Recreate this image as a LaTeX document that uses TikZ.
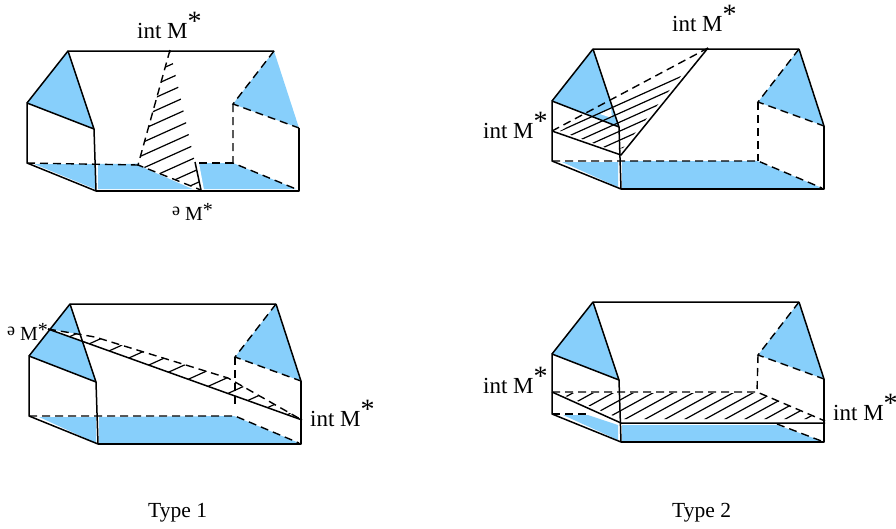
\documentclass[tikz,border=0pt]{standalone}
\usepackage{fontspec}
\setmainfont{Liberation Serif}
\usetikzlibrary{positioning}

\definecolor{skyfill}{RGB}{135,207,251}
\newcommand{\Mstar}{M\raisebox{8pt}{\fontsize{28}{28}\selectfont *}}
\newcommand{\bdMstar}{\raisebox{5pt}{\fontsize{18}{20}\selectfont ə}\hspace{5pt}M\raisebox{4pt}{*}}

% corner points of one prism, shifted by #1,#2
\newcommand{\prismcoords}[2]{
    \coordinate (apexL) at (68+#1,51+#2);
    \coordinate (apexR) at (274+#1,51+#2);
    \coordinate (roofL) at (27+#1,103+#2);
    \coordinate (roofR) at (94+#1,129+#2);
    \coordinate (footL) at (27+#1,163+#2);
    \coordinate (footR) at (96+#1,191+#2);
    \coordinate (backT) at (233+#1,104+#2);
    \coordinate (backB) at (233+#1,163+#2);
    \coordinate (sideT) at (299+#1,128+#2);
    \coordinate (sideB) at (299+#1,191+#2);
}
\newcommand{\roofblue}{
    \fill[skyfill] (apexL) -- (roofL) -- (roofR) -- cycle;
    \fill[skyfill] (apexR) -- (backT) -- (sideT) -- cycle;
}
\newcommand{\prismedges}{
    \draw[edge] (roofL) -- (apexL) -- (apexR);
    \draw[edge] (apexL) -- (roofR) -- (roofL) -- (footL) -- (footR) -- (roofR);
    \draw[edge] (footR) -- (sideB) -- (sideT);
    \draw[hidden] (apexR) -- (backT) -- (sideT);
}

\begin{document}
\begin{tikzpicture}[
    x=1pt,
    y=-1pt,
    edge/.style={
        line width=1.5pt,
        line join=round
    },
    hidden/.style={
        line width=1.4pt,
        dash pattern=on 8pt off 5pt
    },
    hatch/.style={
        line width=1.2pt
    },
    lab/.style={
        font=\fontsize{23}{25}\selectfont,
        anchor=base west,
        inner sep=0pt
    },
    bdry/.style={
        font=\fontsize{20}{22}\selectfont,
        anchor=base west,
        inner sep=0pt
    },
    caption/.style={
        font=\fontsize{21.5}{23}\selectfont,
        anchor=base west,
        inner sep=0pt
    }
]
\useasboundingbox (0,0) rectangle (896,528);

% Type 1, upper prism
\prismcoords{0}{0}
\fill[skyfill] (34,164) -- (95,164) -- (95,189) -- cycle;
\fill[skyfill] (98,164) -- (233,163) -- (296,189) -- (98,189) -- cycle;
\roofblue
\coordinate (cutT) at (170,50);
\coordinate (cutL) at (138,165);
\coordinate (cutB) at (201,190);
\fill[white] (cutT) -- (cutL) -- (195,190) -- (204,190) -- (199,163) -- cycle;
\begin{scope}
    \clip (cutT) -- (cutL) -- (cutB) -- cycle;
    \foreach \c in {70,83,...,226}
        \draw[hatch] (130,\c) -- (210,\c-36);
\end{scope}
\prismedges
\draw[hidden] (footL) -- (cutL);
\draw[hidden] (199,163) -- (backB);
\draw[hidden] (backT) -- (backB) -- (296,189);
\draw[hidden] (cutT) -- (cutL) -- (cutB);
\draw[edge] (195,162) -- (cutB);

% Type 1, lower prism
\prismcoords{2}{253}
\fill[skyfill] (39,417) -- (96,417) -- (96,443) -- cycle;
\fill[skyfill] (99,417) -- (234,416) -- (299,443) -- (99,443) -- cycle;
\roofblue
\coordinate (bandL) at (48,329);
\coordinate (bandK) at (95,337);
\coordinate (bandM) at (228,378);
\coordinate (bandR) at (302,420);
\fill[white] (bandL) -- (bandK) -- (bandM) -- (bandR) -- cycle;
\begin{scope}
    \clip (bandL) -- (bandK) -- (bandM) -- (bandR) -- cycle;
    \foreach \c in {350,366,...,590}
        \draw[hatch] (40,\c) -- (320,\c-126);
\end{scope}
\prismedges
\draw[edge] (apexR) -- (sideT);
\draw[hidden] (footL) -- (backB) -- (299,443);
\draw[hidden] (backT) -- (235,404);
\draw[hidden] (bandL) -- (bandK) -- (bandM) -- (bandR);
\draw[edge] (bandL) -- (bandR);

% Type 2, upper prism
\prismcoords{525}{-2}
\fill[skyfill] (562,162) -- (618,162) -- (618,187) -- cycle;
\fill[skyfill] (622,161) -- (757,161) -- (822,188) -- (622,188) -- cycle;
\roofblue
\fill[white] (600,114) -- (611,108) -- (612,118) -- cycle;
\coordinate (cutL) at (552,131);
\coordinate (cutT) at (708,48);
\coordinate (cutB) at (621,155);
\begin{scope}
    \clip (560,131) -- (697,56) -- (623,148) -- (612,150) -- cycle;
    \foreach \c in {140,149,...,185}
        \draw[hatch] (540,\c) -- (720,\c-81);
\end{scope}
\prismedges
\draw[edge] (apexR) -- (sideT);
\draw[hidden] (footL) -- (backB) -- (822,188);
\draw[hidden] (backT) -- (backB);
\draw[hidden] (cutL) -- (cutT);
\draw[edge] (cutL) -- (cutB) -- (cutT);

% Type 2, lower prism
\prismcoords{525}{251}
\fill[skyfill] (563,415) -- (588,415) -- (618,425) -- (618,440) -- cycle;
\fill[skyfill] (622,425) -- (777,425) -- (822,441) -- (622,441) -- cycle;
\roofblue
\coordinate (cutL) at (552,392);
\coordinate (cutM) at (757,392);
\coordinate (cutR) at (825,421);
\coordinate (cutB) at (621,423);
\begin{scope}
    \clip (558,393) -- (760,393) -- (818,419) -- (621,419) -- cycle;
    \foreach \c in {400,411,...,587}
        \draw[hatch] (540,\c) -- (840,\c-165);
\end{scope}
\prismedges
\draw[edge] (apexR) -- (sideT);
\draw[hidden] (footL) -- (590,414);
\draw[hidden] (backT) -- (cutM);
\draw[hidden] (cutL) -- (cutM) -- (cutR);
\draw[hidden] (777,424) -- (824,442);
\draw[edge] (cutL) -- (cutB) -- (825,423);

% Labels
\node[lab] (intA) at (137,38) {int \Mstar};
\node[bdry] (bndA) at (172,220) {\bdMstar};
\node[lab] (intB) at (672,31) {int \Mstar};
\node[lab] (intC) at (483,138) {int \Mstar};
\node[bdry] (bndB) at (7,340) {\bdMstar};
\node[lab] (intD) at (310,426) {int \Mstar};
\node[lab] (intE) at (483,393) {int \Mstar};
\node[lab] (intF) at (833,420) {int \Mstar};
\node[caption] (typeA) at (148,517) {Type 1};
\node[caption] (typeB) at (672,517) {Type 2};

\end{tikzpicture}
\end{document}
